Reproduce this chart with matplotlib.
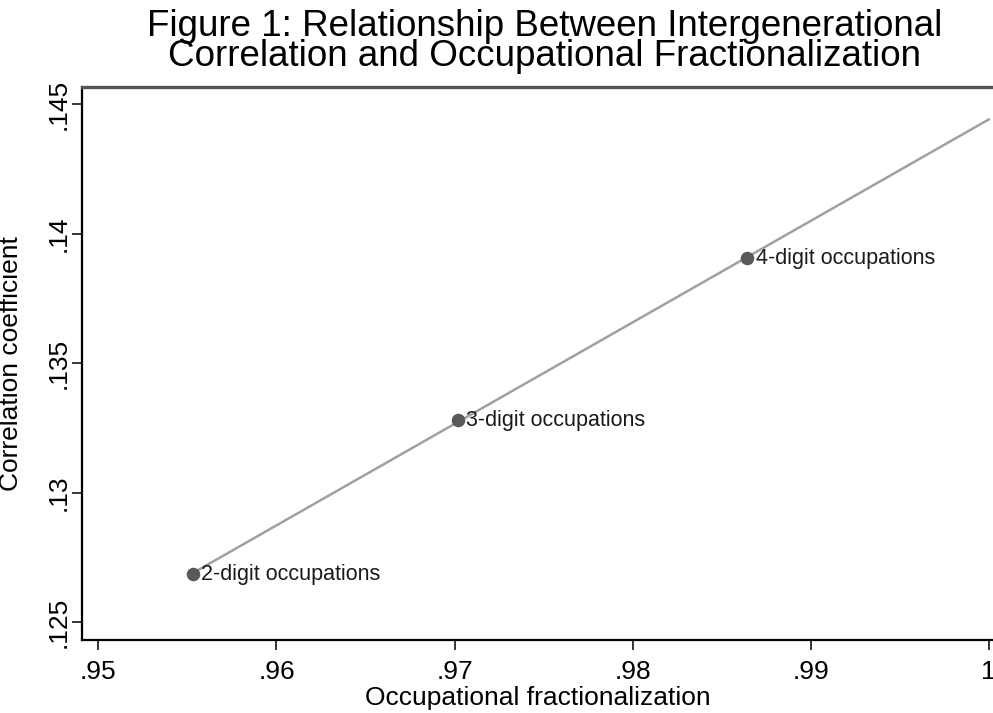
import numpy as np
import matplotlib.pyplot as plt

plt.rcParams['font.family'] = ['Liberation Sans', 'DejaVu Sans']

# values
labels = ['2-digit occupations', '3-digit occupations', '4-digit occupations']
frac = [0.95531, 0.97017, 0.98644]
corr = [0.126865, 0.13281, 0.139066]
xticks = [0.95, 0.96, 0.97, 0.98, 0.99, 1.0]
xticklabels = ['.95', '.96', '.97', '.98', '.99', '1']
yticks = [0.125, 0.13, 0.135, 0.14, 0.145]
yticklabels = ['.125', '.13', '.135', '.14', '.145']

fig = plt.figure(figsize=(9.93, 7.13), dpi=100)
ax = fig.add_axes([0.0826, 0.1024, 0.9174, 0.7756])

# fitted line from the first point out to 1
b, a = np.polyfit(frac, corr, 1)
xs = np.array([min(frac), 1.0])
ax.plot(xs, a + b * xs, color='#a0a0a0', lw=1.8, zorder=2)

ax.scatter(frac, corr, s=95, color='#595959', zorder=3, linewidths=0)
for x, y, t in zip(frac, corr, labels):
    ax.annotate(t, (x, y), xytext=(6, 0), textcoords='offset points',
                va='center', ha='left', fontsize=15.5, color='#1a1a1a')

ax.set_xlim(0.94908, 1.00024)
ax.set_ylim(0.12432, 0.14567)
ax.set_xticks(xticks)
ax.set_xticklabels(xticklabels)
ax.set_yticks(yticks)
ax.set_yticklabels(yticklabels, rotation=90, va='center')
ax.tick_params(axis='both', direction='out', length=7.5, width=1.1,
               labelsize=19, color='black')
ax.tick_params(axis='x', pad=7)
ax.tick_params(axis='y', pad=1)

for s in ['left', 'bottom']:
    ax.spines[s].set_linewidth(1.6)
    ax.spines[s].set_color('black')
ax.spines['top'].set_color('#555555')
ax.spines['top'].set_linewidth(2.4)
ax.spines['right'].set_visible(False)

ax.set_xlabel('Occupational fractionalization', fontsize=19, labelpad=1)
ax.set_ylabel('Correlation coefficient', fontsize=19, labelpad=17)

fig.suptitle('Figure 1: Relationship Between Intergenerational\n'
             'Correlation and Occupational Fractionalization',
             x=0.5485, y=0.988, fontsize=26.5, linespacing=0.82, va='top')

fig.savefig('out.png', dpi=100)
